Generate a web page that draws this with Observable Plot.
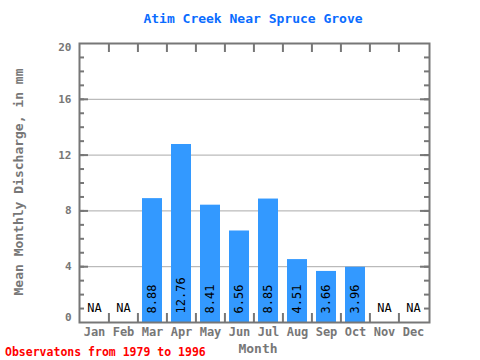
<!DOCTYPE html>
<html><head><meta charset="utf-8">
<script src="https://cdn.jsdelivr.net/npm/d3@7"></script>
<script src="https://cdn.jsdelivr.net/npm/@observablehq/plot@0.6"></script>
<style>
body{margin:0;background:#fff;}
#wrap{position:relative;width:480px;height:360px;font-family:"DejaVu Sans Mono",monospace;}
.t{position:absolute;white-space:nowrap;font-weight:bold;}
</style></head><body>
<div id="wrap"></div>
<script>
const months = ["Jan","Feb","Mar","Apr","May","Jun","Jul","Aug","Sep","Oct","Nov","Dec"];
const values = [null,null,8.88,12.76,8.41,6.56,8.85,4.51,3.66,3.96,null,null];
const yTicksMid = [4,8,12,16];
const yTickTop = [20];
const yTickBottom = [0];
const gridLines = [4,8,12,16];
const minorTicks = d3.range(1,20);
const titleText = "Atim Creek Near Spruce Grove";
const yLabel = "Mean Monthly Discharge, in mm";
const xLabel = "Month";
const caption = "Observatons from 1979 to 1996";

const data = months.map((m,i)=>({month:m, value:values[i]}));
const present = data.filter(d=>d.value!=null);
const missing = data.filter(d=>d.value==null);

const W=480,H=360,mL=79,mR=51,mT=43,mB=38;
const pw=W-mL-mR, ph=H-mT-mB, step=pw/months.length;
const font="DejaVu Sans Mono, monospace";
const frameColor="#777";
const yAxisStyle={tickSize:0,tickPadding:8,label:null,fontSize:11,fontWeight:"bold",fill:"#777",fontFamily:font};

const chart = Plot.plot({
  width:W,height:H,marginLeft:mL,marginRight:mR,marginTop:mT,marginBottom:mB,
  style:{fontFamily:font,background:"#fff"},
  x:{domain:months,paddingInner:0.31,paddingOuter:0.155,axis:null,label:null},
  y:{domain:[0,20],axis:null,label:null},
  marks:[
    Plot.ruleY(gridLines,{stroke:"#aaa",strokeWidth:1}),
    Plot.barY(present,{x:"month",y:"value",fill:"#3399ff"}),
    Plot.text(present,{x:"month",y:0,text:d=>d.value.toFixed(2),rotate:-90,textAnchor:"start",lineAnchor:"middle",dy:-9,fill:"#000",fontSize:12,fontFamily:font}),
    Plot.text(missing,{x:"month",y:0,text:()=>"NA",dy:-14,fill:"#000",fontSize:12,fontFamily:font}),
    Plot.ruleY(minorTicks,{stroke:frameColor,strokeWidth:2,insetRight:pw-5}),
    Plot.ruleY(minorTicks,{stroke:frameColor,strokeWidth:2,insetLeft:pw-5}),
    Plot.ruleY(gridLines,{stroke:frameColor,strokeWidth:2,insetRight:pw-9}),
    Plot.ruleY(gridLines,{stroke:frameColor,strokeWidth:2,insetLeft:pw-9}),
    Plot.ruleX(months.slice(1),{x:d=>d,dx:-step/2,stroke:frameColor,strokeWidth:2,insetBottom:ph-9}),
    Plot.ruleX(months.slice(1),{x:d=>d,dx:-step/2,stroke:frameColor,strokeWidth:2,insetTop:ph-9}),
    Plot.frame({stroke:frameColor,strokeWidth:2}),
    Plot.axisY(yTicksMid,yAxisStyle),
    Plot.axisY(yTickTop,{...yAxisStyle,dy:4}),
    Plot.axisY(yTickBottom,{...yAxisStyle,dy:-5}),
    Plot.axisX(months,{tickSize:0,tickPadding:5,label:null,fontSize:12,fontWeight:"bold",fill:"#777",fontFamily:font})
  ]
});
const wrap=document.getElementById("wrap");
wrap.appendChild(chart);
function addText(txt,css){const d=document.createElement("div");d.className="t";d.textContent=txt;Object.assign(d.style,css);wrap.appendChild(d);return d;}
addText(titleText,{left:"253px",top:"18px",transform:"translate(-50%,-50%)",color:"#0a6cff",fontSize:"13px"});
addText(xLabel,{left:"258px",top:"348px",transform:"translate(-50%,-50%)",color:"#777",fontSize:"13px"});
addText(yLabel,{left:"18px",top:"182px",transform:"translate(-50%,-50%) rotate(-90deg)",color:"#777",fontSize:"13px"});
addText(caption,{left:"5px",top:"352px",transform:"translate(0,-50%)",color:"#ff0000",fontSize:"11.5px"});
</script></body></html>
